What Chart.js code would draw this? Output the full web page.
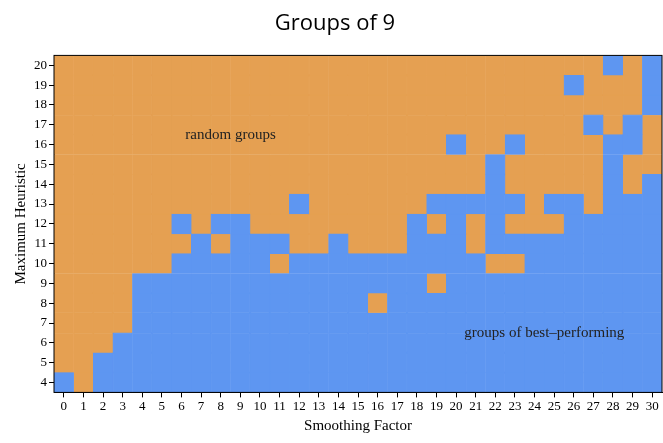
<!DOCTYPE html>
<html>
<head>
<meta charset="utf-8">
<script src="https://cdn.jsdelivr.net/npm/chart.js@4.4.0/dist/chart.umd.min.js"></script>
<style>
  html, body { margin: 0; padding: 0; background: #fff; }
  #wrap { width: 663px; height: 443px; }
</style>
</head>
<body>
<div id="wrap"><canvas id="chart"></canvas></div>
<script>
// ── Data ────────────────────────────────────────────────────────────────────
const smoothingFactors = Array.from({ length: 31 }, (_, i) => String(i));
const heuristicTicks = [4, 5, 6, 7, 8, 9, 10, 11, 12, 13, 14, 15, 16, 17, 18, 19, 20];

// blue cells ("groups of best-performing") per column, as [from, to] runs
const blueRuns = [
    [[4, 4]], [], [[4, 5]], [[4, 6]], [[4, 9]], [[4, 9]],
    [[4, 10], [12, 12]], [[4, 11]], [[4, 10], [12, 12]], [[4, 12]], [[4, 11]],
    [[4, 9], [11, 11]], [[4, 10], [13, 13]], [[4, 10]], [[4, 11]], [[4, 10]],
    [[4, 7], [9, 10]], [[4, 10]], [[4, 12]], [[4, 8], [10, 11], [13, 13]],
    [[4, 13], [16, 16]], [[4, 10], [13, 13]], [[4, 9], [11, 15]],
    [[4, 9], [11, 11], [13, 13], [16, 16]], [[4, 11]], [[4, 11], [13, 13]],
    [[4, 13], [19, 19]], [[4, 12], [17, 17]], [[4, 16], [20, 20]],
    [[4, 13], [16, 17]], [[4, 14], [18, 20]]
];

const colors = { orange: '#E5A052', blue: '#5E96F1' };

// ── Build cells ─────────────────────────────────────────────────────────────
const blueCells = [];
const orangeCells = [];
smoothingFactors.forEach((label, col) => {
    heuristicTicks.forEach(h => {
        const isBlue = blueRuns[col].some(r => h >= r[0] && h <= r[1]);
        const cell = { x: label, y: [h - 0.5, h + 0.5] };
        (isBlue ? blueCells : orangeCells).push(cell);
    });
});

const labels = [
    { text: 'random groups', x: 8.5, y: 16.5 },
    { text: 'groups of best\u2013performing', x: 24.5, y: 6.5 }
];

const serif = "'Liberation Serif', 'DejaVu Serif', serif";

const overlay = {
    id: 'overlay',
    afterDatasetsDraw(chart) {
        const { ctx, chartArea, scales } = chart;
        ctx.save();
        ctx.fillStyle = '#222';
        ctx.font = '15px ' + serif;
        ctx.textAlign = 'center';
        ctx.textBaseline = 'middle';
        labels.forEach(l => {
            ctx.fillText(l.text, scales.x.getPixelForValue(l.x), scales.y.getPixelForValue(l.y));
        });
        ctx.strokeStyle = '#000';
        ctx.lineWidth = 1;
        ctx.strokeRect(chartArea.left, chartArea.top, chartArea.width, chartArea.height);
        ctx.restore();
    }
};

new Chart(document.getElementById('chart'), {
    type: 'bar',
    data: {
        labels: smoothingFactors,
        datasets: [
            { data: blueCells, backgroundColor: colors.blue, borderColor: colors.blue },
            { data: orangeCells, backgroundColor: colors.orange, borderColor: colors.orange }
        ]
    },
    options: {
        responsive: true,
        maintainAspectRatio: false,
        animation: false,
        grouped: false,
        barPercentage: 1,
        categoryPercentage: 1,
        borderWidth: 0.6,
        borderSkipped: false,
        layout: { padding: { left: 8, right: 1, top: 0, bottom: 4 } },
        plugins: {
            legend: { display: false },
            tooltip: { enabled: false },
            title: {
                display: true,
                text: 'Groups of 9',
                color: '#000',
                font: { family: "'Open Sans', sans-serif", size: 22, weight: 'normal' },
                padding: { top: 11, bottom: 18 }
            }
        },
        scales: {
            x: {
                grid: { display: true, drawOnChartArea: false, tickLength: 5, color: '#000', offset: false },
                border: { color: '#000' },
                ticks: { color: '#000', font: { family: serif, size: 13 }, maxRotation: 0, autoSkip: false, padding: 1 },
                title: { display: true, text: 'Smoothing Factor', color: '#000', font: { family: serif, size: 15 }, padding: { top: 2 } }
            },
            y: {
                min: 3.5,
                max: 20.5,
                afterBuildTicks: axis => { axis.ticks = heuristicTicks.map(v => ({ value: v })); },
                grid: { display: true, drawOnChartArea: false, tickLength: 5, color: '#000' },
                border: { color: '#000' },
                ticks: { color: '#000', font: { family: serif, size: 13 }, padding: 2 },
                title: { display: true, text: 'Maximum Heuristic', color: '#000', font: { family: serif, size: 15 }, padding: { bottom: 2 } }
            }
        }
    },
    plugins: [overlay]
});
</script>
</body>
</html>
